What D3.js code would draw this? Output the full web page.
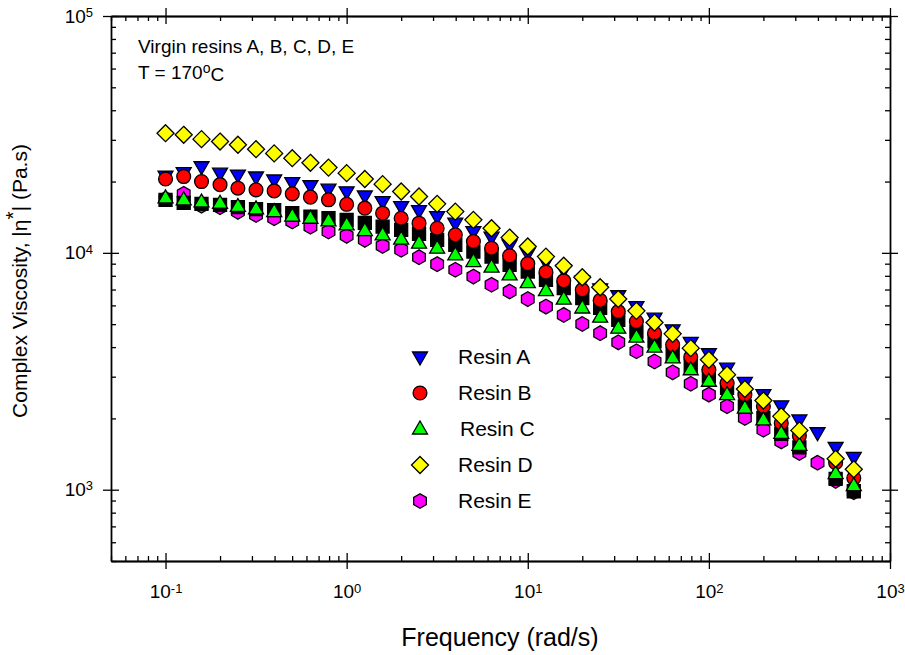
<!DOCTYPE html>
<html lang="en">
<head>
  <meta charset="UTF-8">
  <title>Complex Viscosity vs Frequency</title>
  <script src="https://d3js.org/d3.v7.min.js"></script>
  <style>
    body { margin: 0; background: #fff; }
    svg { display: block; font-family: "Liberation Sans", Arial, sans-serif; }
    .axis path, .axis line { stroke: #000; stroke-width: 1.3; }
    .axis text { font-size: 19px; fill: #000; }
    .mark { stroke: #000; stroke-width: 1.3; }
  </style>
</head>
<body>
  <div id="chart"></div>
  <script>
    // frequencies (rad/s), 10 points per decade
    const freq = [0.1, 0.126, 0.158, 0.2, 0.251, 0.316, 0.398, 0.501, 0.631, 0.794,
      1, 1.26, 1.58, 2, 2.51, 3.16, 3.98, 5.01, 6.31, 7.94,
      10, 12.6, 15.8, 20, 25.1, 31.6, 39.8, 50.1, 63.1, 79.4,
      100, 126, 158, 200, 251, 316, 398, 501, 631];

    // complex viscosity (Pa.s)
    const resinA = [21100, 21800, 23100, 21700, 21300, 20900, 20300, 19800, 19200, 18580,
      18100, 17400, 16450, 15680, 15070, 14230, 13340, 12300, 11650, 10810,
      9970, 9190, 8480, 7600, 7050, 6590, 5930, 5300, 4730, 4190,
      3750, 3260, 2840, 2520, 2260, 1970, 1740, 1510, 1370];
    const resinB = [20500, 21000, 20000, 19400, 18750, 18450, 18260, 17750, 17190, 16750,
      16030, 15440, 14700, 14000, 13340, 12700, 11910, 11160, 10460, 9710,
      9000, 8290, 7620, 6980, 6300, 5650, 5130, 4580, 4090, 3630,
      3210, 2820, 2520, 2250, 1910, 1690, null, 1300, 1120];
    const resinC = [17060, 16750, 16400, 16200, 15700, 15330, 14930, 14300, 14000, 13650,
      13130, 12420, 11910, 11420, 10990, 10460, 9810, 9190, 8710, 8070,
      7490, 6930, 6380, 5850, 5350, 4810, 4410, 4000, 3600, 3210,
      2870, 2520, 2210, 1970, 1730, 1540, null, 1170, 1040];
    const resinD = [32000, 31500, 30200, 29500, 28600, 27400, 26300, 25100, 24000, 22900,
      21700, 20500, 19500, 18150, 17300, 16100, 14930, 13780, 12700, 11600,
      10640, 9640, 8820, 7890, 7160, 6380, 5690, 5080, 4550, 3960,
      3540, 3060, 2660, 2380, 2040, 1780, null, 1350, 1220];
    const resinE = [16900, 17750, 15800, 15600, 14900, 14450, 14000, 13560, 12900, 12300,
      11800, 11350, 10700, 10300, 9590, 8960, 8480, 7940, 7330, 6870,
      6380, 5930, 5470, 5010, 4580, 4190, 3840, 3480, 3130, 2800,
      2520, 2250, 2010, 1790, 1600, 1430, 1300, 1090, 975];
    // unlabelled black squares
    const extra = [16750, 16250, 16100, 15950, 15600, 15300, 15150, 14700, 14230, 14000,
      13780, 13390, 12900, 12500, 12030, 11350, 10810, 10120, 9640, 8900,
      8340, 7690, 7100, 6440, 5860, 5210, 4650, 4230, 3750, 3330,
      3010, 2690, 2250, 2010, 1720, 1510, null, 1110, 985];

    const legendNames = ['Resin A', 'Resin B', 'Resin C', 'Resin D', 'Resin E'];
    const xMajor = [0.1, 1, 10, 100, 1000];
    const yMajor = [1000, 10000, 100000];

    const W = 905, H = 655;
    const plot = { left: 111, right: 890, top: 16, bottom: 561 };

    const x = d3.scaleLog().domain([0.05, 1000]).range([plot.left, plot.right]);
    const y = d3.scaleLog().domain([500, 100000]).range([plot.bottom, plot.top]);

    // marker shapes
    const shapes = {
      down: () => 'M-7.5,-5L7.5,-5L0,8Z',
      up: () => 'M-7.5,5L7.5,5L0,-8Z',
      circle: () => d3.symbol(d3.symbolCircle, 150)(),
      diamond: () => 'M0,-8.5L8.5,0L0,8.5L-8.5,0Z',
      square: () => 'M-6.5,-6.5H6.5V6.5H-6.5Z',
      hexagon: () => {
        const pts = d3.range(6).map(i => {
          const a = Math.PI / 2 + i * Math.PI / 3;
          return [7.3 * Math.cos(a), -7.3 * Math.sin(a)];
        });
        return 'M' + pts.map(p => p.join(',')).join('L') + 'Z';
      }
    };

    const series = [
      { name: 'Resin A', values: resinA, shape: 'down', fill: '#0000ff' },
      { name: 'Resin E', values: resinE, shape: 'hexagon', fill: '#ff00ff' },
      { name: '', values: extra, shape: 'square', fill: '#000000' },
      { name: 'Resin B', values: resinB, shape: 'circle', fill: '#ff0000' },
      { name: 'Resin C', values: resinC, shape: 'up', fill: '#00ff00' },
      { name: 'Resin D', values: resinD, shape: 'diamond', fill: '#ffff00' }
    ];

    const svg = d3.select('#chart').append('svg')
      .attr('width', W).attr('height', H);

    svg.append('rect').attr('width', W).attr('height', H).attr('fill', '#fff');

    const xMinor = x.ticks().filter(t => !xMajor.includes(t));
    const yMinor = y.ticks().filter(t => !yMajor.some(m => Math.abs(m - t) < 1e-6));

    function sup(sel, base, exp) {
      sel.text(null);
      sel.append('tspan').text(base);
      sel.append('tspan').attr('dy', '-0.45em').style('font-size', '13px').text(exp);
    }

    // bottom axis
    const gB = svg.append('g').attr('class', 'axis').attr('transform', `translate(0,${plot.bottom})`);
    gB.call(d3.axisBottom(x).tickValues(xMinor).tickSize(-5).tickFormat('').tickSizeOuter(0));
    gB.append('g').call(d3.axisBottom(x).tickValues(xMajor).tickSize(-8).tickFormat('').tickSizeOuter(0));
    const gBl = gB.append('g').call(d3.axisBottom(x).tickValues(xMajor).tickSize(8).tickPadding(16).tickSizeOuter(0));
    gBl.selectAll('.tick text').each(function(d) { sup(d3.select(this), '10', String(Math.round(Math.log10(d)))); });

    // top axis
    const gT = svg.append('g').attr('class', 'axis').attr('transform', `translate(0,${plot.top})`);
    gT.call(d3.axisTop(x).tickValues(xMinor).tickSize(-5).tickFormat('').tickSizeOuter(0));
    gT.append('g').call(d3.axisTop(x).tickValues(xMajor).tickSize(8).tickFormat('').tickSizeOuter(0));
    gT.append('g').call(d3.axisTop(x).tickValues(xMajor).tickSize(-8).tickFormat('').tickSizeOuter(0));

    // left axis
    const gL = svg.append('g').attr('class', 'axis').attr('transform', `translate(${plot.left},0)`);
    gL.call(d3.axisLeft(y).tickValues(yMinor).tickSize(-5).tickFormat('').tickSizeOuter(0));
    gL.append('g').call(d3.axisLeft(y).tickValues(yMajor).tickSize(-8).tickFormat('').tickSizeOuter(0));
    const gLl = gL.append('g').call(d3.axisLeft(y).tickValues(yMajor).tickSize(8).tickPadding(10).tickSizeOuter(0));
    gLl.selectAll('.tick text').each(function(d) { sup(d3.select(this), '10', String(Math.round(Math.log10(d)))); });

    // right axis
    const gR = svg.append('g').attr('class', 'axis').attr('transform', `translate(${plot.right},0)`);
    gR.call(d3.axisRight(y).tickValues(yMinor).tickSize(-5).tickFormat('').tickSizeOuter(0));
    gR.append('g').call(d3.axisRight(y).tickValues(yMajor).tickSize(8).tickFormat('').tickSizeOuter(0));
    gR.append('g').call(d3.axisRight(y).tickValues(yMajor).tickSize(-8).tickFormat('').tickSizeOuter(0));

    // data markers
    series.forEach(s => {
      const pts = freq.map((f, i) => ({ f, v: s.values[i] })).filter(d => d.v != null);
      svg.append('g').selectAll('path')
        .data(pts)
        .join('path')
        .attr('class', 'mark')
        .attr('d', shapes[s.shape]())
        .attr('fill', s.fill)
        .attr('transform', d => `translate(${x(d.f)},${y(d.v)})`);
    });

    // legend
    const legendStyle = {
      'Resin A': series[0], 'Resin B': series[3], 'Resin C': series[4],
      'Resin D': series[5], 'Resin E': series[1]
    };
    const legend = svg.append('g').attr('transform', 'translate(420,357)');
    legendNames.forEach((n, i) => {
      const s = legendStyle[n];
      const row = legend.append('g').attr('transform', `translate(0,${i * 36})`);
      row.append('path').attr('class', 'mark').attr('d', shapes[s.shape]()).attr('fill', s.fill);
      row.append('text').attr('x', n === 'Resin C' ? 40 : 38).attr('dy', '0.35em')
        .style('font-size', '21px').text(n);
    });

    // annotation
    svg.append('text').attr('x', 138).attr('y', 53).style('font-size', '19px')
      .text('Virgin resins A, B, C, D, E');
    const t2 = svg.append('text').attr('x', 138).attr('y', 79).style('font-size', '19px');
    t2.append('tspan').text('T = 170');
    t2.append('tspan').attr('dy', '-0.45em').style('font-size', '14px').text('o');
    t2.append('tspan').attr('dy', '0.45em').text('C');

    // axis titles
    svg.append('text').attr('x', 500).attr('y', 646).attr('text-anchor', 'middle')
      .style('font-size', '25px').text('Frequency (rad/s)');

    const yt = svg.append('text').attr('transform', 'rotate(-90)')
      .attr('x', -281).attr('y', 27)
      .attr('text-anchor', 'middle').style('font-size', '21px');
    yt.append('tspan').text('Complex Viscosity, |\u03b7');
    yt.append('tspan').attr('dy', '-0.35em').text('*');
    yt.append('tspan').attr('dy', '0.35em').text('| (Pa.s)');
  </script>
</body>
</html>
